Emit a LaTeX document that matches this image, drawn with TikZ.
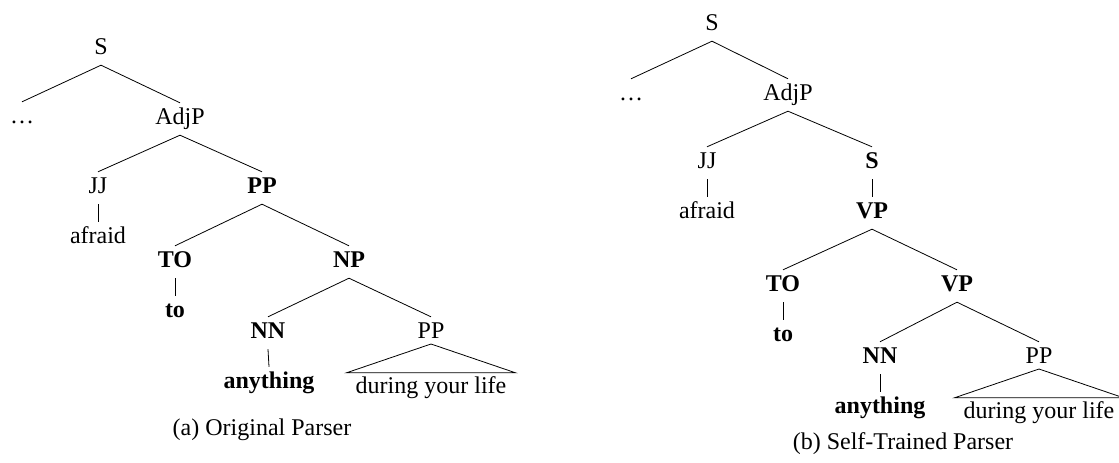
\documentclass[tikz,border=0pt]{standalone}
\usepackage{fontspec}
\setmainfont{Liberation Serif}
\begin{document}
\begin{tikzpicture}[x=1pt,y=-1pt,
  font=\fontsize{24}{28}\selectfont,
  lbl/.style={inner sep=0pt,text height=21pt,text depth=11pt,anchor=base},
  bf/.style={lbl,font=\fontsize{24}{28}\selectfont\bfseries},
  tri/.style={inner ysep=0pt,inner xsep=9pt,text height=20pt,text depth=6pt,anchor=base},
  edge/.style={line width=0.8pt},
  captext/.style={inner sep=0pt,anchor=base}]
\useasboundingbox (0,0) rectangle (1119,463);
% ---------- (a) left tree ----------
\node[lbl] (S1) at (101,54) {S};
\node[lbl] (dots1) at (22,123) {\dots};
\node[lbl] (AdjP1) at (180,124) {AdjP};
\node[lbl] (JJ1) at (98,193) {JJ};
\node[bf] (PP1) at (262,193) {PP};
\node[lbl] (afraid1) at (98,243) {afraid};
\node[bf] (TO1) at (175,267) {TO};
\node[bf] (NP1) at (349,267) {NP};
\node[bf] (to1) at (175,317) {to};
\node[bf] (NN1) at (268,338) {NN};
\node[lbl] (PPb1) at (431,338) {PP};
\node[bf] (any1) at (269,388) {anything};
\node[tri] (dl1) at (431,393) {during your life};
\node[captext] (capa) at (262,435) {(a) Original Parser};
\draw[edge] (S1.south) -- (dots1.north);
\draw[edge] (S1.south) -- (AdjP1.north);
\draw[edge] (AdjP1.south) -- (JJ1.north);
\draw[edge] (AdjP1.south) -- (PP1.north);
\draw[edge] (JJ1.south) -- (afraid1.north);
\draw[edge] (PP1.south) -- (TO1.north);
\draw[edge] (PP1.south) -- (NP1.north);
\draw[edge] (TO1.south) -- (to1.north);
\draw[edge] (NP1.south) -- (NN1.north);
\draw[edge] (NP1.south) -- (PPb1.north);
\draw[edge] (NN1.south) -- (any1.north);
\draw[edge] ([yshift=-6pt]PPb1.base) -- (dl1.north west) -- (dl1.north east) -- cycle;
% ---------- (b) right tree ----------
\node[lbl] (S2) at (712,30) {S};
\node[lbl] (dots2) at (631,100) {\dots};
\node[lbl] (AdjP2) at (788,100) {AdjP};
\node[lbl] (JJ2) at (707,168) {JJ};
\node[bf] (Sb2) at (872,168) {S};
\node[lbl] (afraid2) at (707,218) {afraid};
\node[bf] (VP2) at (872,218) {VP};
\node[bf] (TO2) at (783,291) {TO};
\node[bf] (VPb2) at (957,291) {VP};
\node[bf] (to2) at (783,341) {to};
\node[bf] (NN2) at (880,363) {NN};
\node[lbl] (PP2) at (1039,363) {PP};
\node[bf] (any2) at (880,413) {anything};
\node[tri] (dl2) at (1039,418) {during your life};
\node[captext] (capb) at (903,449) {(b) Self-Trained Parser};
\draw[edge] (S2.south) -- (dots2.north);
\draw[edge] (S2.south) -- (AdjP2.north);
\draw[edge] (AdjP2.south) -- (JJ2.north);
\draw[edge] (AdjP2.south) -- (Sb2.north);
\draw[edge] (JJ2.south) -- (afraid2.north);
\draw[edge] (Sb2.south) -- (VP2.north);
\draw[edge] (VP2.south) -- (TO2.north);
\draw[edge] (VP2.south) -- (VPb2.north);
\draw[edge] (TO2.south) -- (to2.north);
\draw[edge] (VPb2.south) -- (NN2.north);
\draw[edge] (VPb2.south) -- (PP2.north);
\draw[edge] (NN2.south) -- (any2.north);
\draw[edge] ([yshift=-6pt]PP2.base) -- (dl2.north west) -- (dl2.north east) -- cycle;
\end{tikzpicture}
\end{document}
